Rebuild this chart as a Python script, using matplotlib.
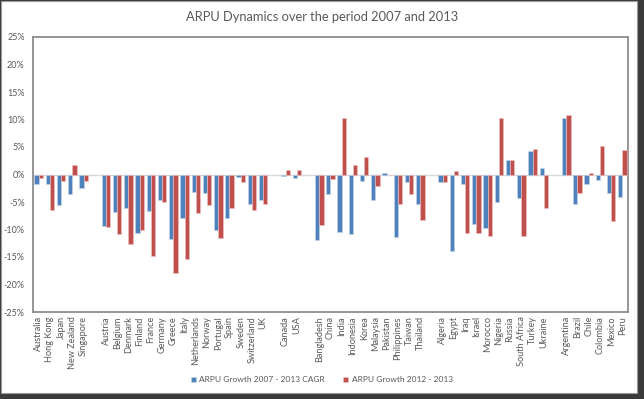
import matplotlib
matplotlib.use("Agg")
import matplotlib.pyplot as plt
import numpy as np
from matplotlib.patches import Rectangle

categories = ["Australia", "Hong Kong", "Japan", "New Zealand", "Singapore", "",
              "Austria", "Belgium", "Denmark", "Finland", "France", "Germany", "Greece", "Italy",
              "Netherlands", "Norway", "Portugal", "Spain", "Sweden", "Switzerland", "UK", "",
              "Canada", "USA", "",
              "Bangladesh", "China", "India", "Indonesia", "Korea", "Malaysia", "Pakistan",
              "Philippines", "Taiwan", "Thailand", "",
              "Algeria", "Egypt", "Iraq", "Israel", "Morocco", "Nigeria", "Russia", "South Africa",
              "Turkey", "Ukraine", "",
              "Argentina", "Brazil", "Chile", "Colombia", "Mexico", "Peru"]

cagr_2007_2013 = [-1.7, -1.7, -5.5, -3.6, -2.5, np.nan,
                  -9.4, -6.8, -6.1, -10.7, -6.6, -4.7, -11.8, -7.9, -3.1, -3.3, -10.0, -7.9, -0.5, -5.3, -4.7, np.nan,
                  -0.2, -0.6, np.nan,
                  -11.9, -3.6, -10.5, -10.9, -1.1, -4.6, 0.3, -11.4, -1.4, -5.4, np.nan,
                  -1.45, -13.9, -1.8, -9.0, -9.8, -5.0, 2.7, -4.3, 4.3, 1.1, np.nan,
                  10.2, -5.3, -1.8, -1.0, -3.4, -4.0]

growth_2012_2013 = [-0.6, -6.5, -1.1, 1.75, -1.1, np.nan,
                    -9.6, -10.8, -12.7, -10.1, -14.9, -5.0, -17.9, -15.3, -7.0, -5.6, -11.5, -6.0, -1.3, -6.5, -5.4, np.nan,
                    0.8, 0.9, np.nan,
                    -9.2, -0.9, 10.2, 1.75, 3.1, -2.0, 0.0, -5.4, -3.5, -8.2, np.nan,
                    -1.45, 0.6, -10.7, -10.7, -11.2, 10.2, 2.7, -11.1, 4.6, -6.0, np.nan,
                    10.9, -3.3, 0.3, 5.1, -8.5, 4.5]

series_names = ["ARPU Growth 2007 - 2013 CAGR", "ARPU Growth 2012 - 2013"]
yticks = [25, 20, 15, 10, 5, 0, -5, -10, -15, -20, -25]

plt.rcParams['font.family'] = ['Lato', 'DejaVu Sans']
txt = '#595959'

fig = plt.figure(figsize=(6.44, 3.99), dpi=100)
W, H = 644, 399

# outer frame + shadow
fig.patches.append(Rectangle((0, 0), 1, 1, transform=fig.transFigure, facecolor='#3a3a3a', edgecolor='none', zorder=-3))
fig.patches.append(Rectangle((1 / W, 6 / H), (637 - 1) / W, (H - 7) / H, transform=fig.transFigure,
                             facecolor='white', edgecolor='#9a9a9a', linewidth=0.8, zorder=-2))

ax = fig.add_axes([33 / W, (H - 312) / H, (628 - 33) / W, (312 - 37) / H])

x = np.arange(len(categories))
w = 0.38
ax.bar(x - w / 2, cagr_2007_2013, width=w, color='#4F81BD', edgecolor='#c5d6ea', linewidth=0.4,
       label=series_names[0], zorder=3)
ax.bar(x + w / 2, growth_2012_2013, width=w, color='#C0504D', edgecolor='#ecc4c3', linewidth=0.4,
       label=series_names[1], zorder=3)

ax.axhline(0, color='#d9d9d9', linewidth=1.0, zorder=2)
ax.set_xlim(-0.5, len(categories) - 0.5)
ax.set_ylim(-25, 25)
ax.set_yticks(yticks)
ax.set_yticklabels([f"{v}%" for v in yticks], fontsize=6.5, color=txt)
ax.set_xticks(x)
ax.set_xticklabels(categories, rotation=90, fontsize=6.6, color=txt)
ax.tick_params(axis='both', length=0, pad=3)
ax.tick_params(axis='y', pad=6)
for s in ax.spines.values():
    s.set_color('#8c8c8c')
    s.set_linewidth(1.3)

fig.text(0.5, (H - 17) / H, "ARPU Dynamics over the period 2007 and 2013", ha='center', va='center',
         fontsize=9.3, color=txt)

fig.legend(loc='center', bbox_to_anchor=(0.5, (H - 380) / H), ncol=2, frameon=False, fontsize=6.0,
           handlelength=0.6, handleheight=0.6, handletextpad=0.4, columnspacing=2.2, labelcolor=txt)

fig.savefig("out.png", dpi=100)
